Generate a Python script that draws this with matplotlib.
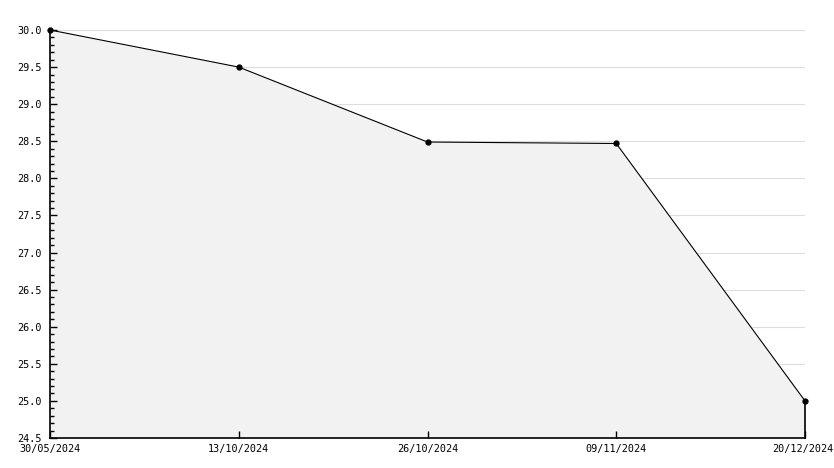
import matplotlib.pyplot as plt
import matplotlib.transforms as mtransforms
from matplotlib.ticker import MultipleLocator

DATES = ["30/05/2024", "13/10/2024", "26/10/2024", "09/11/2024", "20/12/2024"]
VALUES = [30.0, 29.5, 28.49, 28.47, 25.0]

Y_MIN, Y_MAX = 24.5, 30.0

fig = plt.figure(figsize=(8.34, 4.68), dpi=100)
ax = fig.add_axes([50 / 834, 30 / 468, 755 / 834, 408 / 468])

x = list(range(len(DATES)))
ax.fill_between(x, VALUES, Y_MIN, color="#f2f2f2", linewidth=0, zorder=1)
ax.plot(x, VALUES, color="black", linewidth=0.8, marker="o", markersize=3.5,
        zorder=5, clip_on=False)
ax.plot([x[-1], x[-1]], [Y_MIN, VALUES[-1]], color="black", linewidth=1.2,
        zorder=5, clip_on=False)

ax.set_xlim(x[0], x[-1])
ax.set_ylim(Y_MIN, Y_MAX)
ax.set_xticks(x)
ax.set_xticklabels(DATES)
ax.yaxis.set_major_locator(MultipleLocator(0.5))
ax.yaxis.set_minor_locator(MultipleLocator(0.1))
ax.yaxis.set_major_formatter(lambda v, _: f"{v:.1f}")

# gridlines sit under the filled area, ticks stay on top
for tick in ax.get_yticks():
    if Y_MIN < tick <= Y_MAX:
        ax.axhline(tick, color="#dddddd", linewidth=0.8, zorder=0.5)

for side in ("top", "right"):
    ax.spines[side].set_visible(False)
for side in ("left", "bottom"):
    ax.spines[side].set_linewidth(1.2)
    ax.spines[side].set_zorder(4)

ax.tick_params(axis="y", which="major", direction="in", length=5, width=1, pad=6, labelsize=7.3)
ax.tick_params(axis="y", which="minor", direction="in", length=3, width=1)
ax.tick_params(axis="x", which="major", direction="in", length=5, width=1, pad=4, labelsize=7.3)
for lab in ax.get_xticklabels() + ax.get_yticklabels():
    lab.set_fontfamily("DejaVu Sans Mono")

# nudge the last date label so it stays inside the canvas
last = ax.get_xticklabels()[-1]
last.set_transform(last.get_transform()
                   + mtransforms.ScaledTranslation(-2 / 100, 0, fig.dpi_scale_trans))

fig.savefig("out.png", dpi=100)
